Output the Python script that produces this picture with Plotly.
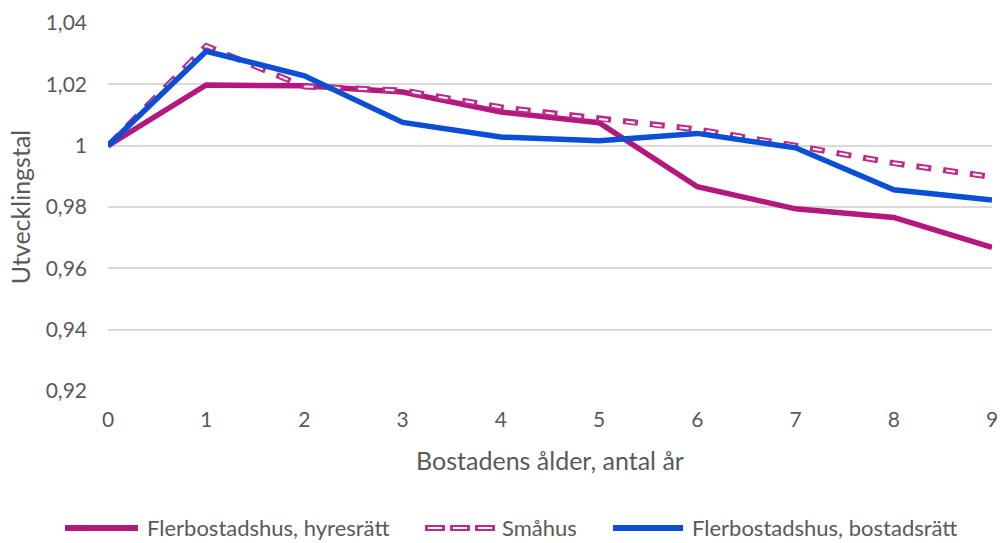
import plotly.graph_objects as go

# ---- data ----
ages = [0, 1, 2, 3, 4, 5, 6, 7, 8, 9]
hyresratt = [1.000, 1.0198, 1.0195, 1.0175, 1.0110, 1.0075, 0.9866, 0.9794, 0.9766, 0.9668]
smahus = [1.000, 1.0325, 1.0193, 1.0180, 1.0125, 1.0087, 1.0053, 1.0000, 0.9943, 0.9898]
bostadsratt = [1.000, 1.0308, 1.0228, 1.0076, 1.0028, 1.0016, 1.0040, 0.9993, 0.9856, 0.9823]

y_tick_vals = [0.92, 0.94, 0.96, 0.98, 1.00, 1.02, 1.04]
y_tick_labels = ["0,92", "0,94", "0,96", "0,98", "1", "1,02", "1,04"]
x_tick_vals = ages
x_tick_labels = [str(a) for a in ages]

series_names = ["Flerbostadshus, hyresrätt", "Småhus", "Flerbostadshus, bostadsrätt"]

MAGENTA = "#B3187F"
MAGENTA_DASH = "#BE2A8C"
BLUE = "#0B4FD6"
GRAY = "#595959"
GRID = "#D9D9D9"
FONT = "Lato, Open Sans, sans-serif"

fig = go.Figure()

fig.add_trace(go.Scatter(x=ages, y=hyresratt, mode="lines", name=series_names[0],
                         line=dict(color=MAGENTA, width=5.5), showlegend=False))
# hollow dashed line: thick coloured dash with a thin white dash inside
fig.add_trace(go.Scatter(x=ages, y=smahus, mode="lines", name=series_names[1],
                         line=dict(color=MAGENTA_DASH, width=6, dash="15px,12px"), showlegend=False))
fig.add_trace(go.Scatter(x=ages, y=smahus, mode="lines", name=series_names[1] + " (inner)",
                         line=dict(color="white", width=2, dash="0px,3px,9px,15px"),
                         showlegend=False, hoverinfo="skip"))
fig.add_trace(go.Scatter(x=ages, y=bostadsratt, mode="lines", name=series_names[2],
                         line=dict(color=BLUE, width=5.5), showlegend=False))

# ---- manual legend (layout elements in paper coordinates) ----
leg_y = -0.372
legend_items = [
    (-0.0486, 0.0339, 0.0419, series_names[0], "solid"),
    (0.3586, 0.4378, 0.4434, series_names[1], "hollow"),
    (0.5713, 0.6505, 0.6584, series_names[2], "blue"),
]
for x0, x1, xt, label, kind in legend_items:
    if kind == "solid":
        fig.add_shape(type="line", xref="paper", yref="paper", x0=x0, x1=x1, y0=leg_y, y1=leg_y,
                      line=dict(color=MAGENTA, width=6))
    elif kind == "blue":
        fig.add_shape(type="line", xref="paper", yref="paper", x0=x0, x1=x1, y0=leg_y, y1=leg_y,
                      line=dict(color=BLUE, width=6))
    else:
        fig.add_shape(type="line", xref="paper", yref="paper", x0=x0, x1=x1, y0=leg_y, y1=leg_y,
                      line=dict(color=MAGENTA_DASH, width=6, dash="20px,5px"))
        fig.add_shape(type="line", xref="paper", yref="paper", x0=x0, x1=x1, y0=leg_y, y1=leg_y,
                      line=dict(color="white", width=2, dash="0px,3px,14px,8px"))
    fig.add_annotation(xref="paper", yref="paper", x=xt, y=leg_y, text=label, showarrow=False,
                       xanchor="left", yanchor="middle", font=dict(family=FONT, size=22, color=GRAY))

fig.update_layout(
    width=1000, height=543,
    margin=dict(l=108, r=8, t=23, b=152),
    paper_bgcolor="white", plot_bgcolor="white",
    font=dict(family=FONT, size=21, color=GRAY),
    showlegend=False,
    xaxis=dict(range=[0, 9], tickvals=x_tick_vals, ticktext=x_tick_labels,
               showgrid=False, zeroline=False, showline=False, ticks="",
               ticklabelstandoff=14,
               title=dict(text="Bostadens ålder, antal år", standoff=22,
                          font=dict(family=FONT, size=25, color=GRAY)),
               automargin=False),
    yaxis=dict(range=[0.92, 1.04], tickvals=y_tick_vals, ticktext=y_tick_labels,
               showgrid=True, gridcolor=GRID, gridwidth=2, zeroline=False, showline=False,
               ticks="", ticklabelstandoff=20,
               title=dict(text="Utvecklingstal", standoff=7,
                          font=dict(family=FONT, size=25, color=GRAY)),
               automargin=False),
)

fig.write_html("out.html", config={"displayModeBar": False},
               post_script="document.body.style.margin='0';")
